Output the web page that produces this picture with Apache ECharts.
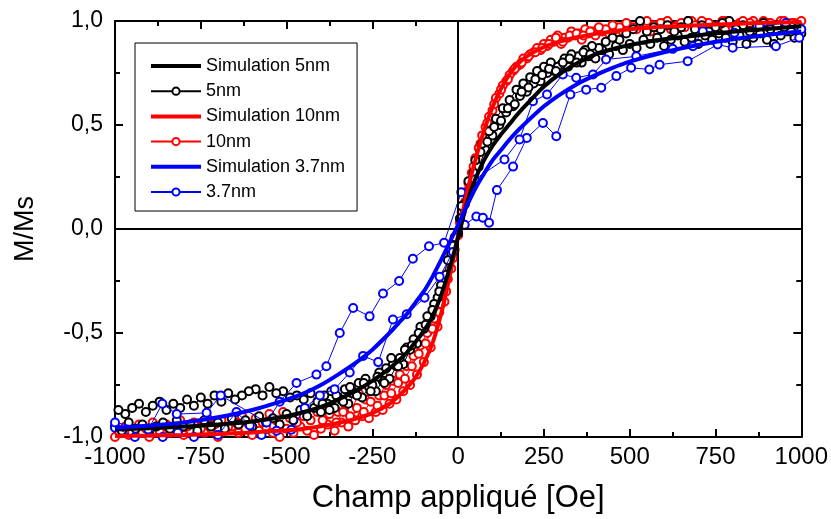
<!DOCTYPE html>
<html><head><meta charset="utf-8">
<script src="https://cdn.jsdelivr.net/npm/echarts@6/dist/echarts.min.js"></script>
<style>html,body{margin:0;padding:0;background:#fff}#c{width:831px;height:519px}</style>
</head><body><div id="c"></div>
<script>
// ---------- DATA ----------
const SERIES_NAMES = ['Simulation 5nm','5nm','Simulation 10nm','10nm','Simulation 3.7nm','3.7nm'];
const X_TICKS = [-1000,-750,-500,-250,0,250,500,750,1000];

const SIM_X = [-1000,-900,-800,-700,-600,-500,-450,-400,-350,-300,-250,-200,-175,-150,-125,-100,-75,-50,-25,0,25,50,75,100,125,150,175,200,250,300,350,400,450,500,600,700,800,900,1000];
const SIM_5NM = [-0.964,-0.958,-0.95,-0.94,-0.925,-0.90,-0.88,-0.855,-0.82,-0.78,-0.73,-0.67,-0.635,-0.595,-0.545,-0.49,-0.42,-0.32,-0.19,-0.04,0.12,0.24,0.33,0.40,0.455,0.505,0.555,0.60,0.685,0.75,0.80,0.84,0.865,0.885,0.912,0.932,0.948,0.962,0.975];
const SIM_10NM = [-0.995,-0.993,-0.99,-0.985,-0.978,-0.968,-0.96,-0.948,-0.933,-0.913,-0.885,-0.84,-0.805,-0.765,-0.715,-0.645,-0.55,-0.41,-0.23,-0.03,0.17,0.33,0.47,0.585,0.675,0.745,0.795,0.83,0.875,0.903,0.923,0.938,0.95,0.96,0.972,0.98,0.986,0.991,0.995];
const SIM_37NM = [-0.955,-0.945,-0.93,-0.905,-0.87,-0.82,-0.79,-0.75,-0.70,-0.645,-0.58,-0.50,-0.455,-0.41,-0.355,-0.30,-0.23,-0.15,-0.065,0.02,0.11,0.195,0.265,0.33,0.38,0.43,0.475,0.515,0.59,0.65,0.70,0.74,0.775,0.805,0.85,0.885,0.912,0.933,0.95];

// measured field values: ascending sweep, descending sweep, extra mid-field sweep
const X_UP = [-1000,-980,-960,-940,-920,-900,-880,-860,-840,-820,-800,-780,-760,-740,-720,-700,-680,-660,-640,-620,-600,-580,-560,-540,-520,-500,-480,-460,-440,-420,-400,-380,-360,-340,-320,-300,-280,-260,-240,-220,-200,-180,-160,-140,-120,-100,-80,-60,-40,-20,0,20,40,60,80,100,120,140,160,180,200,220,240,260,280,300,320,340,360,380,400,420,440,460,480,500,520,540,560,580,600,620,640,660,680,700,720,740,760,780,800,820,840,860,880,900,920,940,960,980,1000];
const X_DOWN = [-990,-970,-950,-930,-910,-890,-870,-850,-830,-810,-790,-770,-750,-730,-710,-690,-670,-650,-630,-610,-590,-570,-550,-530,-510,-490,-470,-450,-430,-410,-390,-370,-350,-330,-310,-290,-270,-250,-230,-210,-190,-170,-150,-130,-110,-90,-70,-50,-30,-10,10,30,50,70,90,110,130,150,170,190,210,230,250,270,290,310,330,350,370,390,410,430,450,470,490,510,530,550,570,590,610,630,650,670,690,710,730,750,770,790,810,830,850,870,890,910,930,950,970,990];
const X_MID = [-395,-375,-355,-335,-315,-295,-275,-255,-235,-215,-195,-175,-155,-135,-115,-95,-75,-55,-35,-15,5,25,45,65,85,105,125,145,165,185,205,225,245,265,285,305,325,345,365,385];

const M_5NM_UP = [-0.95,-0.97,-0.93,-0.96,-0.94,-0.97,-0.95,-0.93,-0.96,-0.92,
 -0.95,-0.94,-0.97,-0.92,-0.95,-0.93,-0.96,-0.91,-0.94,-0.92,
 -0.95,-0.90,-0.93,-0.91,-0.94,-0.89,-0.92,-0.87,-0.90,-0.86,
 -0.88,-0.84,-0.86,-0.82,-0.84,-0.79,-0.81,-0.76,-0.78,-0.73,
 -0.72,-0.66,-0.65,-0.58,-0.55,-0.48,-0.42,-0.33,-0.25,-0.12,
 -0.02,0.12,0.22,0.30,0.38,0.45,0.50,0.56,0.59,0.64,
 0.66,0.70,0.71,0.75,0.76,0.79,0.78,0.81,0.80,0.83,
 0.82,0.86,0.84,0.88,0.86,0.89,0.87,0.91,0.89,0.92,
 0.88,0.91,0.93,0.90,0.92,0.89,0.93,0.91,0.94,0.92,
 0.90,0.93,0.89,0.92,0.94,0.91,0.89,0.93,0.95,0.92,
 0.94];
const M_5NM_DOWN = [-0.87,-0.89,-0.86,-0.84,-0.88,-0.85,-0.83,-0.87,-0.84,-0.86,
 -0.82,-0.85,-0.81,-0.84,-0.80,-0.83,-0.79,-0.82,-0.80,-0.78,
 -0.77,-0.80,-0.76,-0.79,-0.78,-0.81,-0.80,-0.82,-0.79,-0.83,
 -0.80,-0.78,-0.81,-0.77,-0.79,-0.74,-0.72,-0.75,-0.69,-0.67,
 -0.65,-0.62,-0.57,-0.53,-0.47,-0.42,-0.36,-0.27,-0.15,-0.04,
 0.11,0.23,0.33,0.41,0.47,0.53,0.58,0.62,0.67,0.70,
 0.73,0.76,0.78,0.80,0.78,0.82,0.84,0.83,0.86,0.88,
 0.87,0.90,0.92,0.91,0.94,0.96,1.0,0.95,0.97,0.96,
 0.98,0.95,0.97,1.0,0.96,0.98,0.95,0.97,0.99,1.0,
 0.96,0.98,0.95,0.97,0.99,0.96,0.98,0.97,0.95,0.97];
const M_5NM_MID = [-0.84,-0.87,-0.80,-0.83,-0.76,-0.80,-0.74,-0.78,-0.71,-0.74,
 -0.62,-0.66,-0.58,-0.56,-0.50,-0.46,-0.39,-0.30,-0.22,-0.08,
 0.05,0.17,0.27,0.37,0.42,0.49,0.52,0.58,0.60,0.66,
 0.68,0.72,0.74,0.77,0.76,0.80,0.82,0.80,0.85,0.84];
const M_10NM_UP = [-1.0,-0.97,-0.99,-0.96,-0.98,-1.0,-0.97,-0.95,-0.98,-0.96,
 -0.99,-0.97,-0.95,-0.98,-0.96,-1.0,-0.97,-0.95,-0.98,-0.96,
 -0.99,-0.97,-0.95,-0.98,-1.0,-0.96,-0.98,-0.95,-0.97,-0.99,
 -0.96,-0.94,-0.97,-0.93,-0.95,-0.92,-0.90,-0.91,-0.88,-0.87,
 -0.84,-0.82,-0.78,-0.75,-0.70,-0.64,-0.57,-0.47,-0.35,-0.19,
 -0.03,0.13,0.27,0.39,0.49,0.57,0.65,0.71,0.76,0.79,
 0.82,0.85,0.86,0.88,0.90,0.89,0.92,0.93,0.91,0.94,
 0.93,0.95,0.94,0.96,0.95,0.97,0.96,0.98,0.95,0.97,
 0.99,0.96,0.98,0.97,1.0,0.97,0.99,0.96,0.98,1.0,
 0.97,0.99,0.98,1.0,0.97,0.99,0.98,1.0,0.98,0.99,
 1.0];
const M_10NM_DOWN = [-0.97,-0.95,-0.98,-0.94,-0.96,-0.93,-0.97,-0.94,-0.96,-0.92,
 -0.95,-0.93,-0.96,-0.91,-0.94,-0.92,-0.95,-0.93,-0.90,-0.94,
 -0.91,-0.93,-0.89,-0.92,-0.88,-0.91,-0.93,-0.90,-0.92,-0.88,
 -0.90,-0.85,-0.88,-0.84,-0.87,-0.79,-0.82,-0.78,-0.80,-0.75,
 -0.73,-0.70,-0.66,-0.61,-0.56,-0.50,-0.43,-0.36,-0.24,-0.10,
 0.08,0.22,0.34,0.45,0.54,0.63,0.69,0.74,0.78,0.82,
 0.84,0.87,0.89,0.91,0.93,0.92,0.95,0.94,0.96,0.95,
 0.97,0.96,0.98,0.97,0.99,0.97,0.99,1.0,0.98,0.99,
 1.0,0.97,0.99,1.0,0.98,1.0,0.99,0.97,1.0,0.99,
 0.98,1.0,0.99,0.98,1.0,0.99,0.98,1.0,0.99,0.98];
const M_10NM_MID = [-0.92,-0.89,-0.93,-0.88,-0.90,-0.86,-0.88,-0.83,-0.85,-0.80,
 -0.79,-0.74,-0.72,-0.66,-0.60,-0.55,-0.48,-0.40,-0.30,-0.14,
 0.03,0.18,0.30,0.41,0.51,0.60,0.67,0.72,0.77,0.80,
 0.83,0.85,0.87,0.89,0.92,0.90,0.93,0.94,0.93,0.95];

// 3.7nm: measurement order (ascending sweep then descending sweep)
const X_37NM = [-1000,-942,-861,-817,-770,-700,-646,-607,-573,-529,-486,-447,-403,-360,-316,-277,-233,-190,-150,-98,-54,-15,19,53,72,90,113,160,200,247,286,327,373,417,461,504,557,587,669,756,800,926,994,
 1000,955,878,805,713,684,625,519,431,393,344,305,259,218,179,135,48,9,-41,-85,-132,-172,-219,-258,-306,-345,-384,-413,-471,-520,-558,-692,-733,-820,-862,-903,-1000];
const M_37NM = [-0.955,-1.0,-1.0,-0.98,-1.0,-0.99,-0.88,-0.945,-0.99,-0.97,-0.965,-0.86,-0.80,-0.77,-0.69,-0.61,-0.64,-0.435,-0.41,-0.33,-0.23,-0.11,0.02,0.06,0.054,0.03,0.187,0.30,0.438,0.51,0.446,0.647,0.67,0.679,0.735,0.775,0.767,0.79,0.807,0.887,0.871,0.879,0.92,
 0.96,0.99,0.975,0.943,0.951,0.879,0.866,0.83,0.815,0.743,0.727,0.743,0.647,0.614,0.43,0.334,0.238,0.177,-0.066,-0.083,-0.143,-0.25,-0.31,-0.42,-0.38,-0.50,-0.66,-0.70,-0.74,-0.83,-0.93,-0.80,-0.884,-0.89,-0.84,-0.964,-0.93];

// ---------- BUILD ----------
const FONT = '"Liberation Sans", Arial, Helvetica, sans-serif';
const zip = (xs, ys) => xs.map((x, i) => [x, ys[i]]);
const sweep = (xu, yu, xd, yd) => zip(xu, yu).concat(zip(xd, yd).reverse());
const SIM_ICON = 'path://M0,0 L50,0 L50,4 L0,4 Z';

const axisCommon = {
  axisLine: { onZero: false, lineStyle: { color: '#000', width: 2 } },
  axisTick: { inside: true, length: 8, lineStyle: { color: '#000', width: 2 } },
  minorTick: { show: true, splitNumber: 2, length: 5, lineStyle: { color: '#000', width: 2 } },
  splitLine: { show: false }
};

function simSeries(name, xs, ys, color, z) {
  return { name, type: 'line', data: zip(xs, ys), symbol: 'none', showSymbol: false, smooth: 0.3,
    lineStyle: { color, width: 4 }, itemStyle: { color }, z, silent: true };
}
function expSeries(name, data, color, z) {
  return { name, type: 'line', data, symbol: 'emptyCircle', symbolSize: 8, showAllSymbol: true,
    lineStyle: { color, width: 1 }, itemStyle: { color, borderColor: color, borderWidth: 1 }, z, silent: true };
}

const option = {
  animation: false,
  backgroundColor: '#fff',
  grid: { left: 115, right: 29, top: 21, bottom: 81 },
  legend: {
    data: SERIES_NAMES.map(n => n.indexOf('Simulation') === 0 ? { name: n, icon: SIM_ICON } : { name: n }),
    orient: 'vertical', left: 135, top: 43,
    itemWidth: 50, itemHeight: 9, itemGap: 7.2, padding: [14, 12, 10, 15],
    borderColor: '#000', borderWidth: 1, backgroundColor: '#fff', selectedMode: false, z: 10,
    textStyle: { fontSize: 18, fontFamily: FONT, color: '#000' }
  },
  xAxis: [
    Object.assign({ type: 'value', min: X_TICKS[0], max: X_TICKS[X_TICKS.length - 1], interval: 250, position: 'bottom',
      axisLabel: { fontSize: 24, fontFamily: FONT, color: '#000', margin: 8, interval: 0, formatter: v => String(v) },
      name: 'Champ appliqué [Oe]', nameLocation: 'middle', nameGap: 46,
      nameTextStyle: { fontSize: 31, fontFamily: FONT, color: '#000' } }, axisCommon),
    Object.assign({ type: 'value', min: X_TICKS[0], max: X_TICKS[X_TICKS.length - 1], interval: 250, position: 'top',
      axisLabel: { show: false } }, axisCommon)
  ],
  yAxis: [
    Object.assign({ type: 'value', min: -1, max: 1, interval: 0.5, position: 'left',
      axisLabel: { fontSize: 23, fontFamily: FONT, color: '#000', margin: 12, formatter: v => v.toFixed(1).replace('.', ',') },
      name: 'M/Ms', nameLocation: 'middle', nameGap: 76,
      nameTextStyle: { fontSize: 27, fontFamily: FONT, color: '#000' } }, axisCommon),
    Object.assign({ type: 'value', min: -1, max: 1, interval: 0.5, position: 'right',
      axisLabel: { show: false } }, axisCommon)
  ],
  series: [
    { name: 'zero', type: 'line', data: [], z: 1, silent: true,
      markLine: { silent: true, symbol: 'none', label: { show: false }, animation: false,
        lineStyle: { color: '#000', width: 2, type: 'solid' }, emphasis: { disabled: true },
        data: [{ xAxis: 0 }, { yAxis: 0 }] } },
    simSeries('Simulation 5nm', SIM_X, SIM_5NM, '#000000', 4),
    expSeries('5nm', sweep(X_UP, M_5NM_UP, X_DOWN, M_5NM_DOWN), '#000000', 2.5),
    expSeries('5nm', zip(X_MID, M_5NM_MID), '#000000', 2.5),
    simSeries('Simulation 10nm', SIM_X, SIM_10NM, '#ff0000', 3),
    expSeries('10nm', sweep(X_UP, M_10NM_UP, X_DOWN, M_10NM_DOWN), '#ff0000', 2),
    expSeries('10nm', zip(X_MID, M_10NM_MID), '#ff0000', 2),
    simSeries('Simulation 3.7nm', SIM_X, SIM_37NM, '#0000ff', 5),
    expSeries('3.7nm', zip(X_37NM, M_37NM), '#0000ff', 2.8)
  ]
};

const chart = echarts.init(document.getElementById('c'), null, { renderer: 'canvas' });
chart.setOption(option);
</script></body></html>
